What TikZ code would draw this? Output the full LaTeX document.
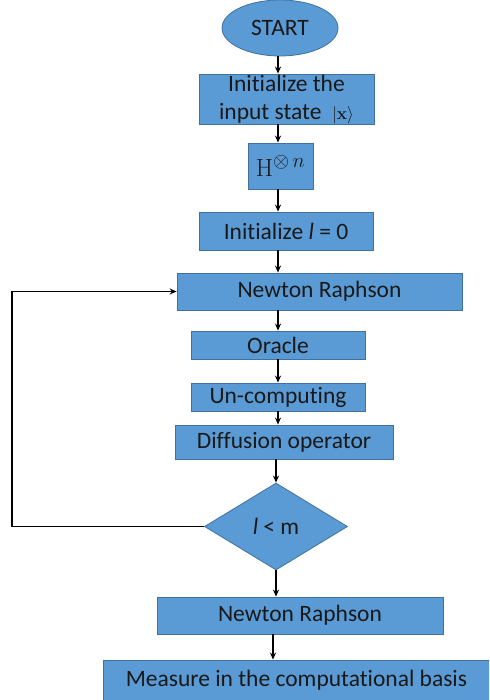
\documentclass[tikz,border=0pt]{standalone}
\usepackage[no-math]{fontspec}
\setmainfont{Carlito}[Ligatures=CommonOff]
\usetikzlibrary{shapes.geometric,arrows.meta}
\definecolor{boxfill}{HTML}{5B9BD5}
\definecolor{boxline}{HTML}{41719C}
\newcommand{\ketx}{{\fontsize{19}{20}\selectfont$\smash{|\mathbf{x}\rangle}$}}
\begin{document}
\begin{tikzpicture}[x=1pt,y=-1pt,
  txt/.style={font=\fontsize{23.5}{27}\selectfont,text=black!90},
  block/.style={rectangle,draw=boxline,line width=0.8pt,fill=boxfill,inner sep=0pt,
    align=center,txt},
  term/.style={ellipse,draw=boxline,line width=0.8pt,fill=boxfill,inner sep=0pt,txt},
  decide/.style={diamond,draw=boxline,line width=0.8pt,fill=boxfill,inner sep=0pt,txt},
  arr/.style={line width=1.4pt,-{Stealth[length=7pt,width=6pt]}}]
\useasboundingbox (0,0) rectangle (489,700);
\clip (0,0) rectangle (489,700);

% chain of steps
\node[term,minimum width=116,minimum height=56] (start) at (280,28) {START};
\node[block,minimum width=175,minimum height=50,font=\fontsize{23.5}{28}\selectfont] (init) at (286.5,99)
  {Initialize the\\input state~ \ketx};
\node[block,minimum width=65,minimum height=46,font=\fontsize{31}{34}\selectfont] (had) at (280.5,166)
  {$\mathrm{H}^{\otimes\, n}$};
\node[block,minimum width=174,minimum height=38] (zero) at (286,231) {Initialize \textit{l} = 0};
\node[block,minimum width=285,minimum height=37] (nr1) at (319.5,291.5) {Newton Raphson};
\node[block,minimum width=174,minimum height=28] (oracle) at (278,345) {Oracle};
\node[block,minimum width=174,minimum height=28] (uncomp) at (278,397) {Un-computing};
\node[block,minimum width=218,minimum height=34] (diff) at (284,442) {Diffusion operator};
\node[decide,minimum width=143,minimum height=87,aspect=1.64] (dec) at (276,526.5) {\textit{l} < m};
\node[block,minimum width=286,minimum height=37] (nr2) at (300,615.5) {Newton Raphson};
\node[block,minimum width=387,minimum height=40] (meas) at (296.5,680) {Measure in the computational basis};

% guide points for the connectors
\coordinate (spine) at (278,0);
\coordinate (spineb) at (273,0);
\coordinate (loopx) at (12,0);

% connectors
\draw[arr] (start.south -| spine) -- (init.north -| spine);
\draw[arr] (init.south -| spine) -- (had.north -| spine);
\draw[arr] (had.south -| spine) -- (zero.north -| spine);
\draw[arr] (zero.south -| spine) -- (nr1.north -| spine);
\draw[arr] (nr1.south -| spine) -- (oracle.north -| spine);
\draw[arr] (oracle.south -| spine) -- (uncomp.north -| spine);
\draw[arr] (uncomp.south -| spine) -- (diff.north -| spine);
\draw[arr] (diff.south -| dec) -- (dec.north);
\draw[arr] (dec.south) -- (nr2.north -| dec);
\draw[arr] (nr2.south -| spineb) -- (meas.north -| spineb);
% loop back from the test to Newton Raphson
\draw[arr] (dec.west) -- (dec.west -| loopx) |- (nr1.west);
\end{tikzpicture}
\end{document}
